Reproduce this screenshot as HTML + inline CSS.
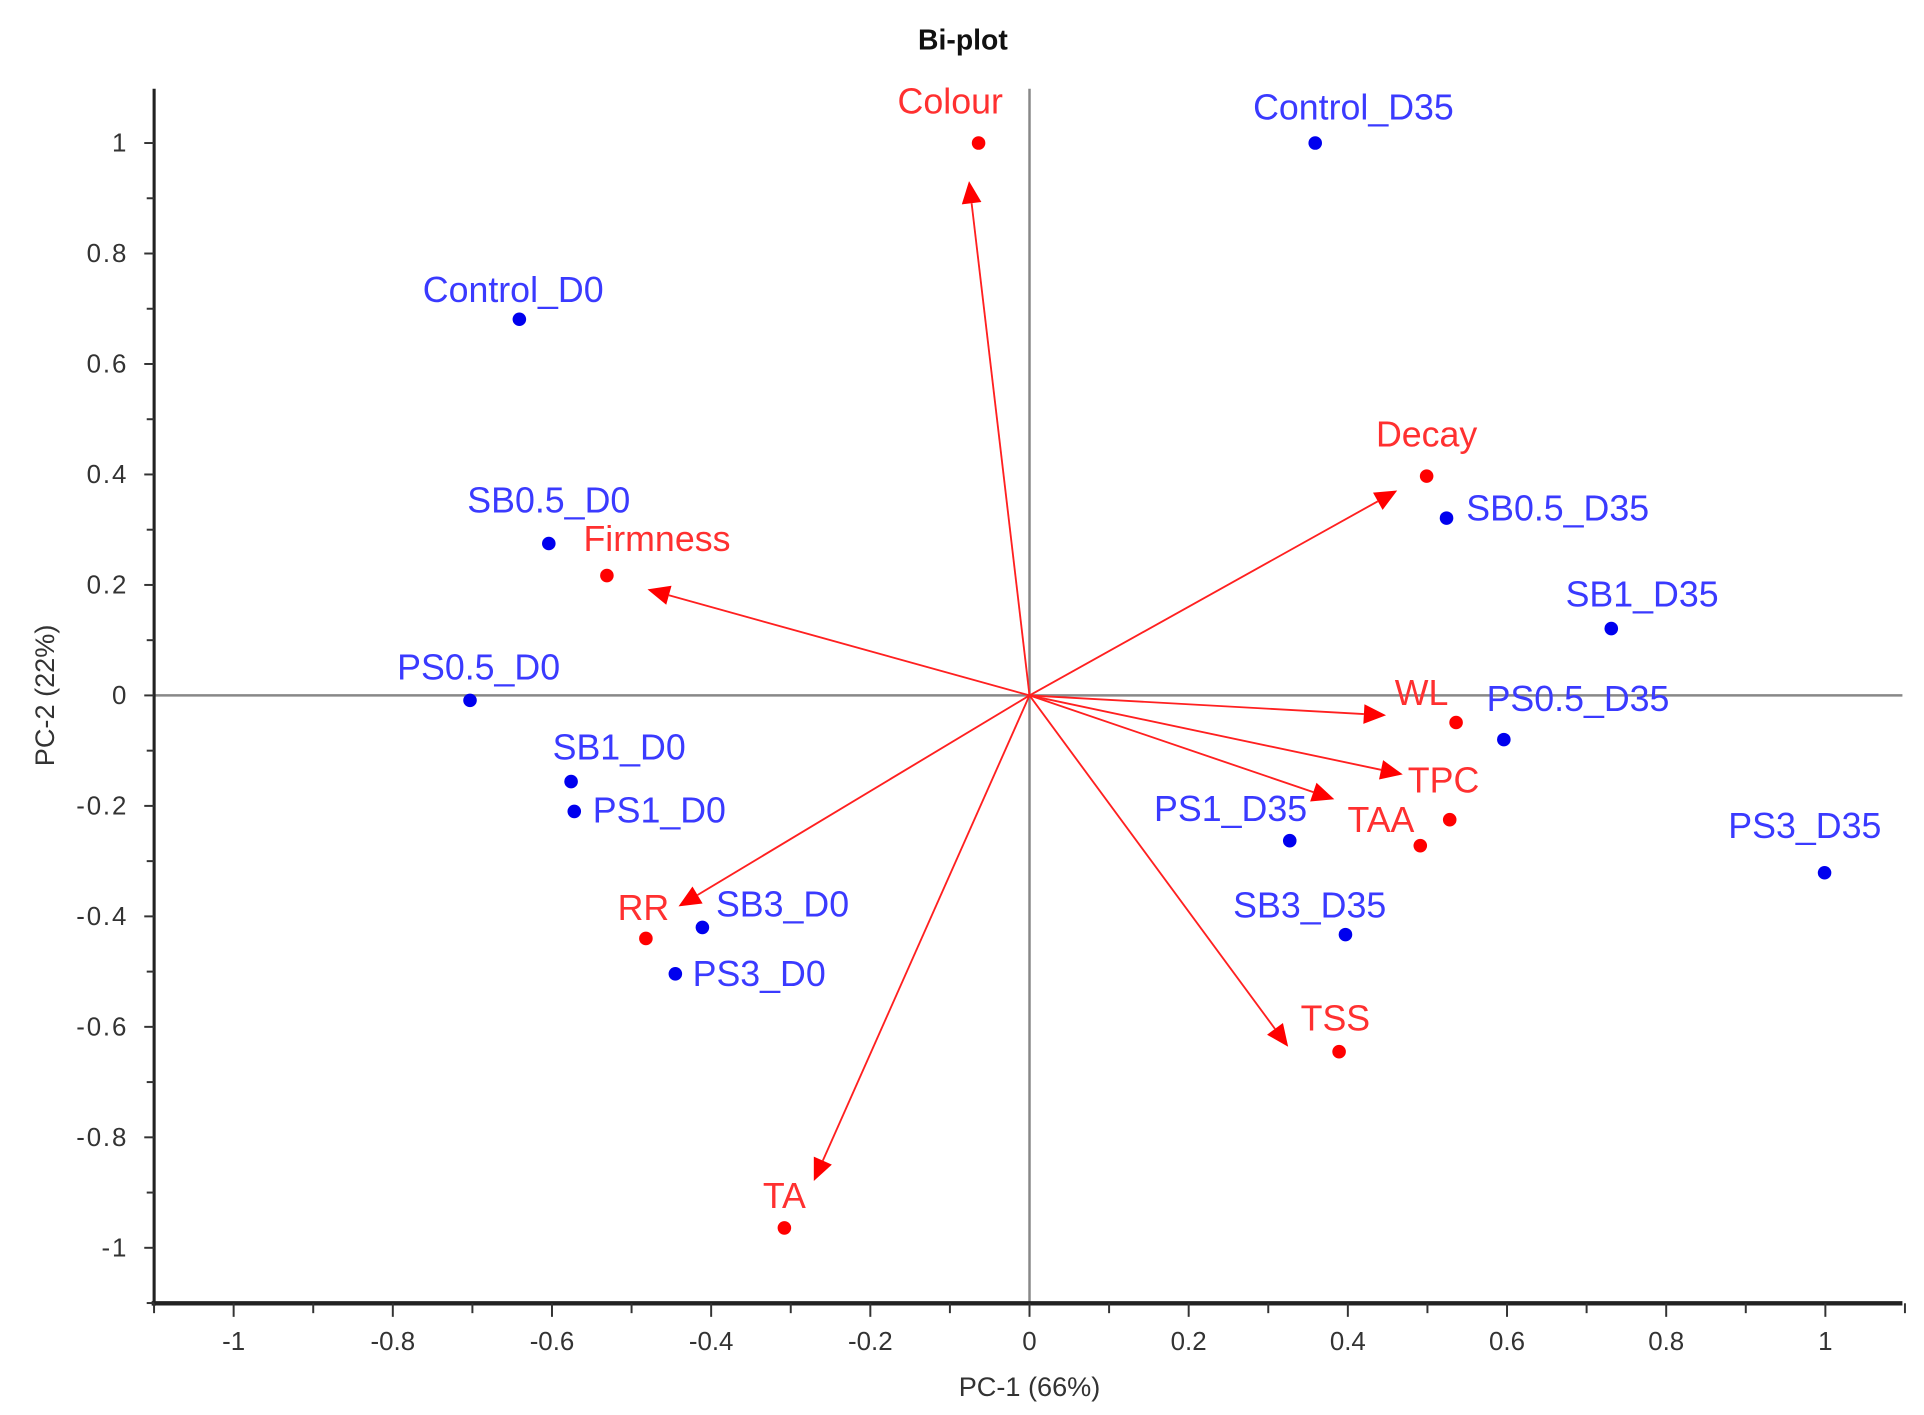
<!DOCTYPE html>
<html><head><meta charset="utf-8"><style>
html,body{margin:0;padding:0;background:#fff}
svg{display:block}
text{font-family:"Liberation Sans",sans-serif}
</style></head><body>
<svg id="chart" width="1924" height="1415" viewBox="0 0 1560.5 1147.6" preserveAspectRatio="none" xmlns="http://www.w3.org/2000/svg">
<text x="781" y="40" text-anchor="middle" font-size="23" font-weight="bold" fill="#111">Bi-plot</text>
<text x="835" y="1132" text-anchor="middle" font-size="22" fill="#333">PC-1 (66%)</text>
<text transform="translate(44,564) rotate(-90)" text-anchor="middle" font-size="22" fill="#333">PC-2 (22%)</text>
<g id="grid"></g><g id="marks"></g>
</svg>
<script>
const obsNames=["Control_D35","Control_D0","SB0.5_D0","PS0.5_D0","SB1_D0","PS1_D0","SB3_D0","PS3_D0","SB0.5_D35","SB1_D35","PS0.5_D35","PS1_D35","SB3_D35","PS3_D35"];
const obsX=[0.359,-0.641,-0.604,-0.703,-0.576,-0.572,-0.411,-0.445,0.524,0.731,0.596,0.327,0.397,0.999];
const obsY=[1.0,0.681,0.275,-0.009,-0.156,-0.210,-0.420,-0.504,0.321,0.121,-0.080,-0.263,-0.433,-0.321];
const varNames=["Colour","Decay","Firmness","WL","TPC","TAA","RR","TSS","TA"];
const varX=[-0.064,0.499,-0.531,0.536,0.528,0.491,-0.482,0.389,-0.308];
const varY=[1.0,0.397,0.217,-0.049,-0.225,-0.272,-0.440,-0.645,-0.964];
const arrowX=[-0.076,0.462,-0.480,0.448,0.469,0.383,-0.441,0.325,-0.271];
const arrowY=[0.931,0.371,0.192,-0.036,-0.143,-0.188,-0.382,-0.636,-0.879];
const xTicks=[-1,-0.8,-0.6,-0.4,-0.2,0,0.2,0.4,0.6,0.8,1];
const yTicks=[1,0.8,0.6,0.4,0.2,0,-0.2,-0.4,-0.6,-0.8,-1];
// label placement (styling)
const obsLab=[[31,-19,"middle"],[-5,-14,"middle"],[0,-25,"middle"],[7,-17,"middle"],[39,-18,"middle"],[15,9,"start"],[11,-9,"start"],[14,10,"start"],[16,2,"start"],[25,-18,"middle"],[-14,-23,"start"],[-48,-16,"middle"],[-29,-14,"middle"],[-16,-28,"middle"]];
const varLab=[[-23,-24,"middle"],[0,-24,"middle"],[-19,-20,"start"],[-28,-14,"middle"],[-34,-22,"start"],[-59,-11,"start"],[-2,-15,"middle"],[-3,-17,"middle"],[0,-16,"middle"]];

const NS="http://www.w3.org/2000/svg";
const X0=835,XU=645.5,Y0=564,YU=448,L=125,R=1543,T=72,B=1057;
const sx=v=>X0+v*XU, sy=v=>Y0-v*YU;
function mk(tag,attrs,parent){const e=document.createElementNS(NS,tag);for(const k in attrs)e.setAttribute(k,attrs[k]);parent.appendChild(e);return e;}
const grid=document.getElementById('grid'), marks=document.getElementById('marks');
let e=mk('line',{x1:sx(0),x2:sx(0),y1:T,y2:B,stroke:'#888','stroke-width':2},grid);


e=mk('line',{x1:L,x2:R,y1:sy(0),y2:sy(0),stroke:'#888','stroke-width':2},grid);


e=mk('line',{x1:L,x2:L,y1:T,y2:B+2,stroke:'#222','stroke-width':2.5},grid);


e=mk('line',{x1:L-2,x2:R,y1:B,y2:B,stroke:'#222','stroke-width':3.5},grid);


for(let i=-11;i<=11;i++){const v=i/10;
  e=mk('line',{x1:sx(v),x2:sx(v),y1:B,y2:B+(i%2==0?11:8),stroke:'#333','stroke-width':1.6},grid);
  
  
  if(v<=1.09){e=mk('line',{x1:L-(i%2==0?8:6),x2:L,y1:sy(v),y2:sy(v),stroke:'#333','stroke-width':1.6},grid);
  
  }
}
xTicks.forEach(v=>{e=mk('text',{x:sx(v),y:1095,'text-anchor':'middle','font-size':21,fill:'#333'},grid);e.textContent=String(v);
  
  });
yTicks.forEach(v=>{e=mk('text',{x:104,y:sy(v)+7,'text-anchor':'end','font-size':21,'letter-spacing':'1.5',fill:'#333'},grid);e.textContent=String(v);
  
  });
varNames.forEach((n,i)=>{
  const x1=sx(0),y1=sy(0),x2=sx(arrowX[i]),y2=sy(arrowY[i]);
  const dx=x2-x1,dy=y2-y1,len=Math.hypot(dx,dy),ux=dx/len,uy=dy/len,hl=18,hw=8;
  const bx=x2-ux*hl,by=y2-uy*hl;
  e=mk('line',{x1,y1,x2:bx,y2:by,stroke:'#ff2020','stroke-width':1.5},marks);
  
  
  e=mk('polygon',{points:`${x2},${y2} ${bx-uy*hw},${by+ux*hw} ${bx+uy*hw},${by-ux*hw}`,fill:'#ff0000'},marks);
  
  
});
varNames.forEach((n,i)=>{
  e=mk('circle',{cx:sx(varX[i]),cy:sy(varY[i]),r:5.5,fill:'#ff0000'},marks);
  
  
  const lb=varLab[i];
  e=mk('text',{x:sx(varX[i])+lb[0],y:sy(varY[i])+lb[1],'text-anchor':lb[2],'font-size':29,fill:'#ff3030'},marks);e.textContent=n;
  
  
});
obsNames.forEach((n,i)=>{
  e=mk('circle',{cx:sx(obsX[i]),cy:sy(obsY[i]),r:5.5,fill:'#0000ee'},marks);
  
  
  const lb=obsLab[i];
  e=mk('text',{x:sx(obsX[i])+lb[0],y:sy(obsY[i])+lb[1],'text-anchor':lb[2],'font-size':29,fill:'#3a3aff'},marks);e.textContent=n;
  
  
});
</script>
</body></html>
